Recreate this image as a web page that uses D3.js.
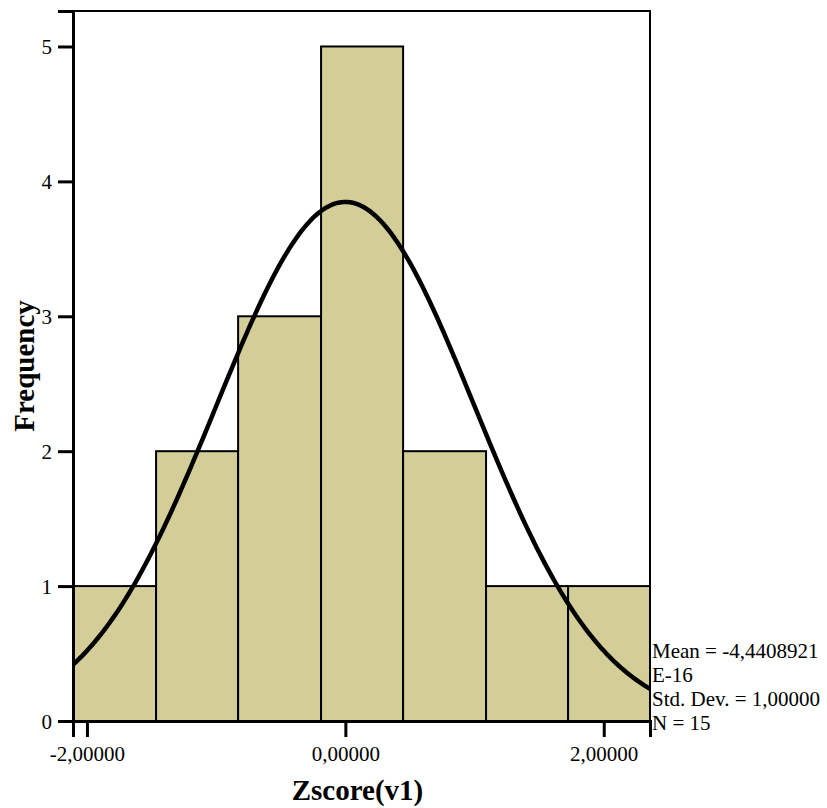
<!DOCTYPE html>
<html>
<head>
<meta charset="utf-8">
<script src="https://cdn.jsdelivr.net/npm/d3@7"></script>
<style>
  body { margin: 0; background: #fff; }
  svg { font-family: 'Liberation Serif', 'Times New Roman', serif; }
</style>
</head>
<body>
<script>
// histogram
const binEdges = [-2.108, -1.465, -0.830, -0.188, 0.447, 1.089, 1.724, 2.358]
const counts = [1, 2, 3, 5, 2, 1, 1]
const yTicks = [0, 1, 2, 3, 4, 5]
const xTicks = [-2, 0, 2]
const statLines = ['Mean = -4,4408921', 'E-16', 'Std. Dev. = 1,00000', 'N = 15']
const mean = 0
const sd = 1
const n = 15

const width = 827
const height = 808
const plotL = 73, plotR = 650, plotT = 11, plotB = 721

const svg = d3.select('body').append('svg').attr('width', width).attr('height', height)

const x = d3.scaleLinear().domain([binEdges[0], binEdges[binEdges.length - 1]]).range([plotL, plotR])
const y = d3.scaleLinear().domain([0, 5.263]).range([plotB, plotT])

const bins = counts.map((c, i) => ({ x0: binEdges[i], x1: binEdges[i + 1], c }))

// frame
svg.append('rect').attr('x', plotL).attr('y', plotT).attr('width', plotR - plotL).attr('height', plotB - plotT)
  .attr('fill', '#fff').attr('stroke', '#000').attr('stroke-width', 2)

svg.selectAll('.bar').data(bins).enter().append('rect')
  .attr('class', 'bar')
  .attr('x', d => x(d.x0))
  .attr('y', d => y(d.c))
  .attr('width', d => x(d.x1) - x(d.x0))
  .attr('height', d => y(0) - y(d.c))
  .attr('fill', '#d3ce98')
  .attr('stroke', '#000')
  .attr('stroke-width', 2)

// fitted normal curve from mean / sd / N
svg.append('clipPath').attr('id', 'clip').append('rect')
  .attr('x', plotL).attr('y', plotT).attr('width', plotR - plotL).attr('height', plotB - plotT)
const bw = binEdges[1] - binEdges[0]
const xs = d3.range(0, 201).map(i => binEdges[0] + i * (binEdges[binEdges.length - 1] - binEdges[0]) / 200)
const line = d3.line().x(d => x(d)).y(d => y(n * bw / (Math.sqrt(2 * Math.PI) * sd) * Math.exp(-0.5 * ((d - mean) / sd) ** 2)))
svg.append('path').datum(xs).attr('d', line).attr('fill', 'none').attr('stroke', '#000')
  .attr('stroke-width', 4.5).attr('clip-path', 'url(#clip)')

const fmt = v => v.toFixed(5).replace('.', ',')

const yAxis = d3.axisLeft(y).tickValues(yTicks).tickSize(15).tickPadding(6).tickFormat(d3.format('d'))
const xAxis = d3.axisBottom(x).tickValues(xTicks).tickSize(16).tickPadding(9).tickFormat(fmt)

const gy = svg.append('g').attr('transform', `translate(${plotL},0)`).call(yAxis)
const gx = svg.append('g').attr('transform', `translate(0,${plotB})`).call(xAxis)
;[gx, gy].forEach(g => {
  g.select('.domain').attr('stroke-width', 3)
  g.selectAll('.tick line').attr('stroke-width', 3)
  g.selectAll('.tick text').style('font-family', 'Liberation Serif').style('font-size', '21px').attr('fill', '#000')
})
gy.selectAll('.tick text').attr('dy', '0.35em')

svg.append('text').text('Zscore(v1)')
  .attr('x', (plotL + plotR) / 2 - 4).attr('y', 800)
  .attr('text-anchor', 'middle').style('font-weight', 'bold').style('font-size', '29px')

svg.append('text').text('Frequency')
  .attr('transform', `translate(34,${(plotT + plotB) / 2}) rotate(-90)`)
  .attr('text-anchor', 'middle').style('font-weight', 'bold').style('font-size', '29px')

svg.selectAll('.stat').data(statLines).enter().append('text')
  .attr('class', 'stat')
  .attr('x', plotR + 2)
  .attr('y', (d, i) => 658 + i * 24)
  .style('font-size', '21px')
  .text(d => d)
</script>
</body>
</html>
